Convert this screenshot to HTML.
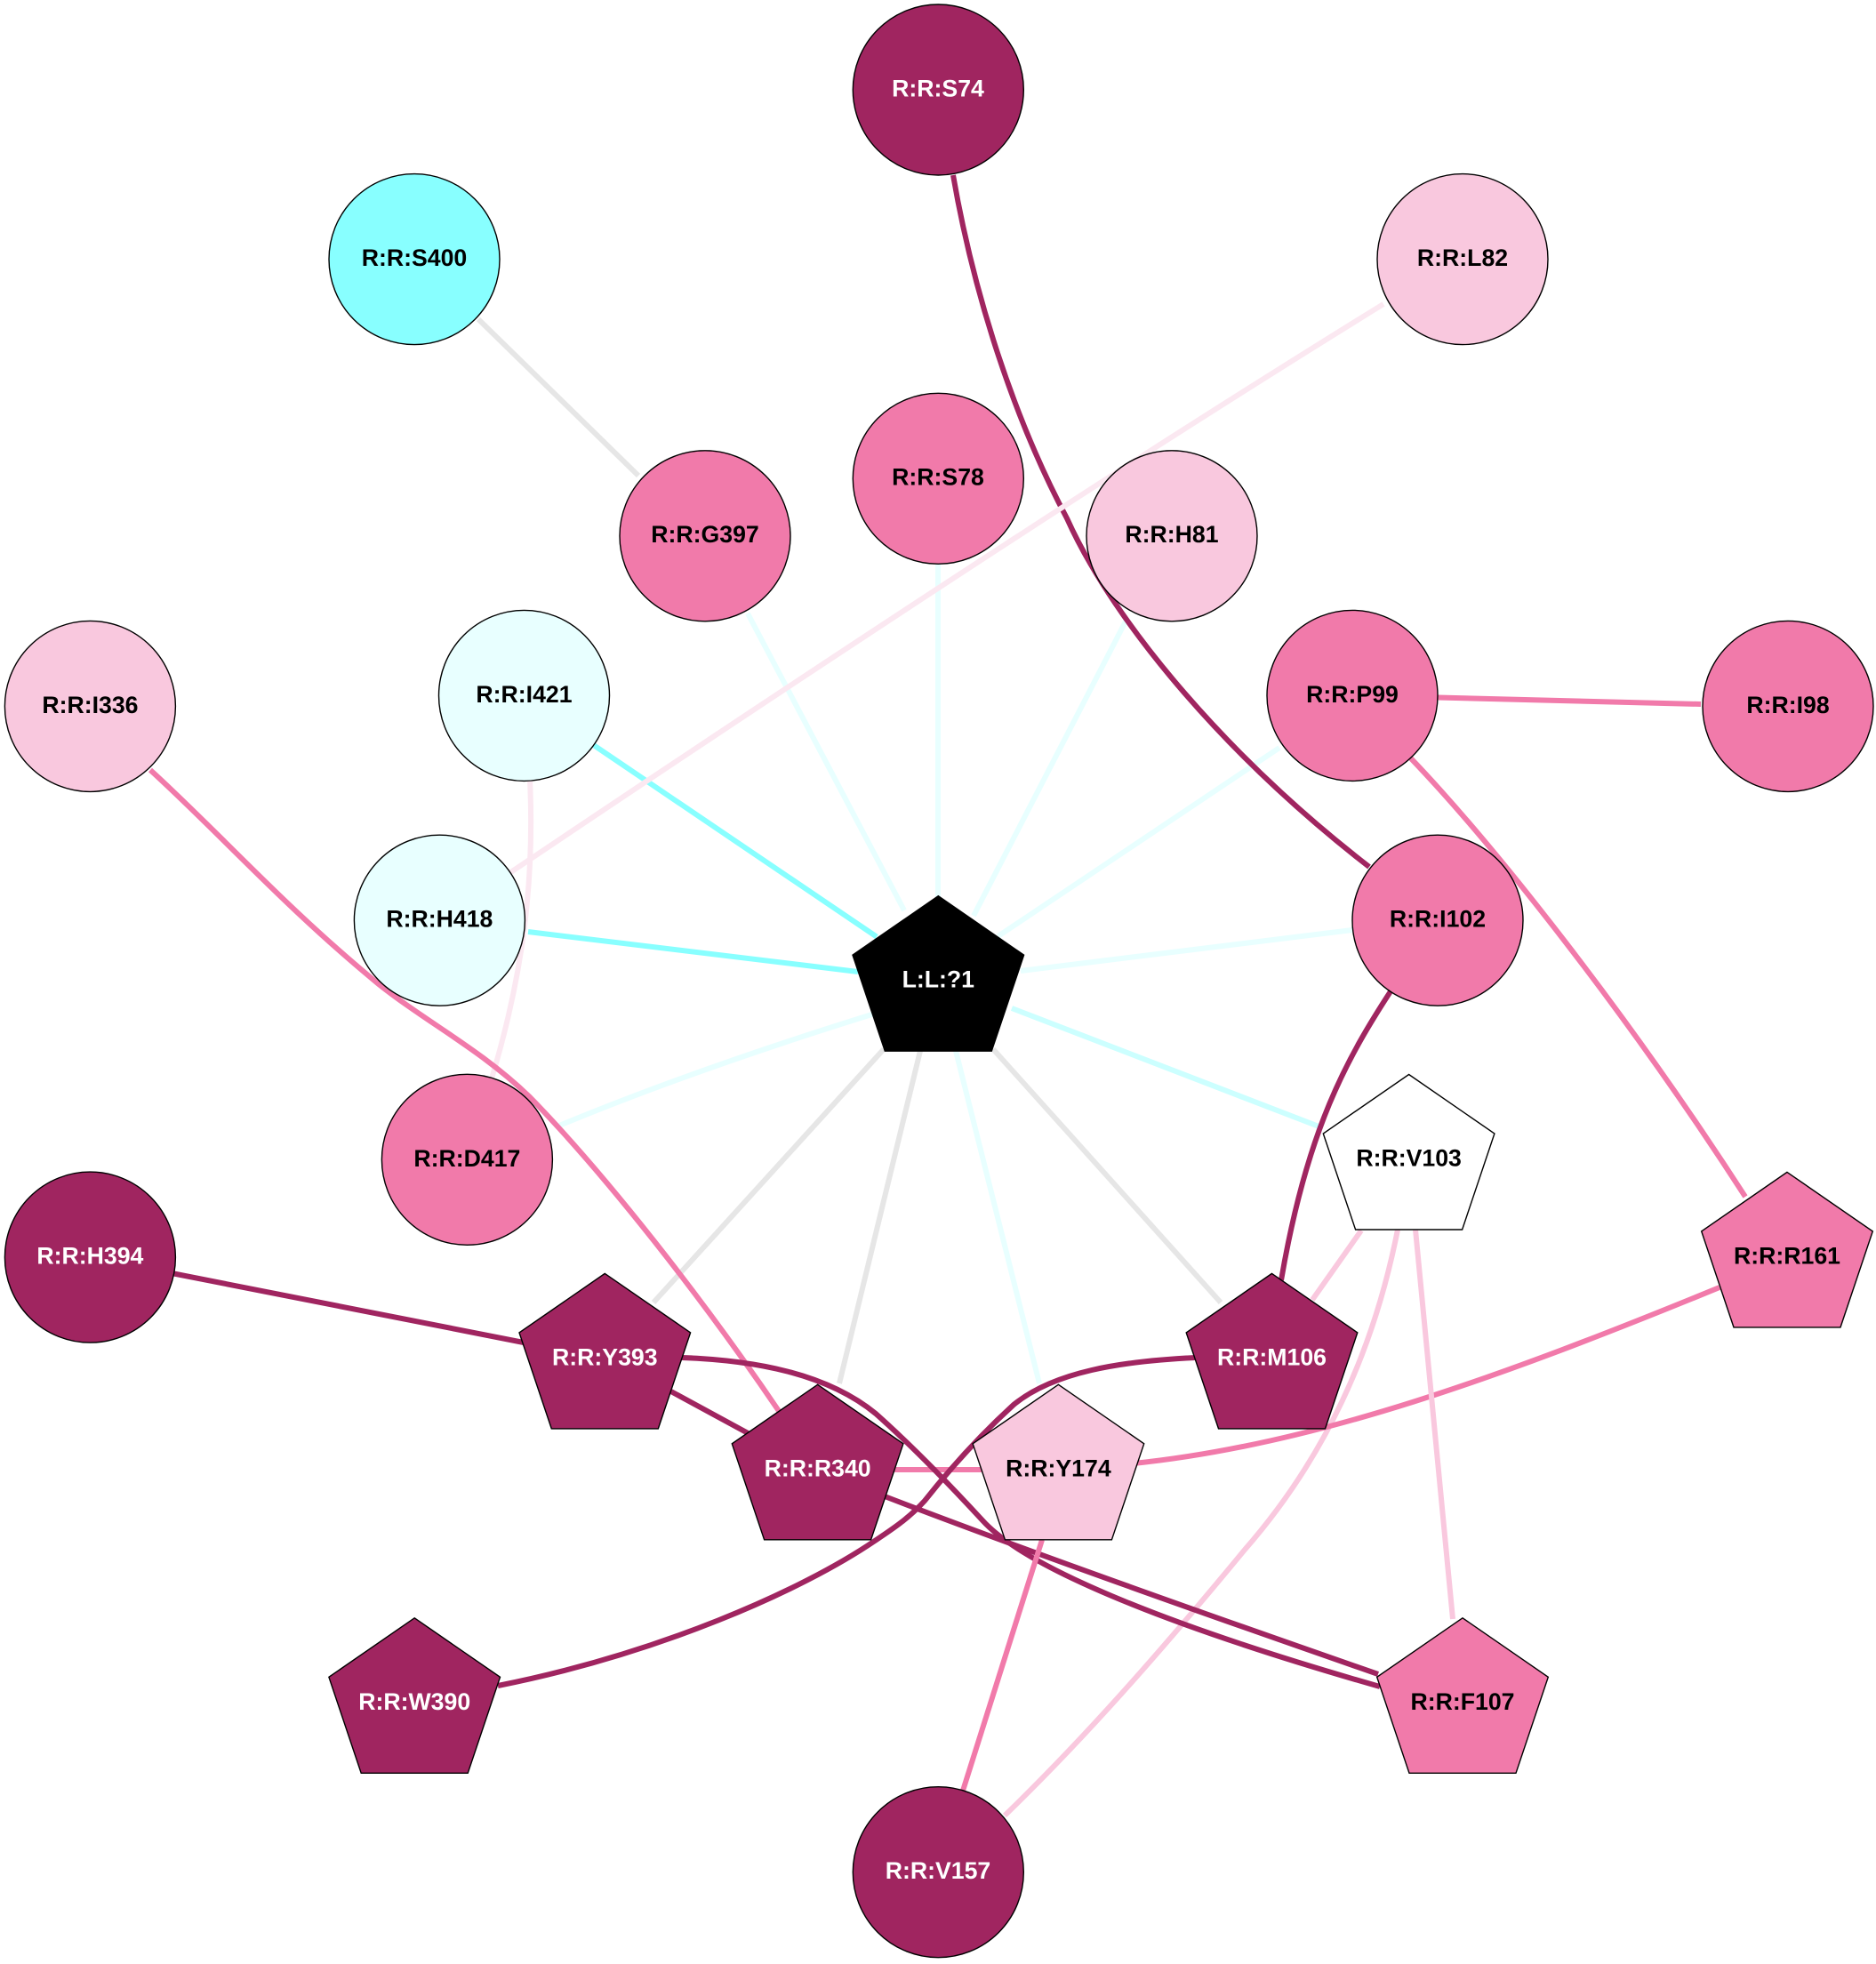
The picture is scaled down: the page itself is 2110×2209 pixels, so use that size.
<!DOCTYPE html>
<html><head><meta charset="utf-8"><style>
html,body{margin:0;padding:0;background:#fff}
svg{display:block}
text{font-family:"Liberation Sans",Arial,sans-serif;font-weight:bold;font-size:26.67px;text-anchor:middle}
.w{fill:#fff}.k{fill:#000}
circle,polygon{stroke:#000;stroke-width:1.4}
.e path{fill:none;stroke-width:6}
</style></head><body>
<svg width="2110" height="2209" viewBox="0 0 2110 2209" xmlns="http://www.w3.org/2000/svg">
<rect width="2110" height="2209" fill="#fff"/>
<g class="e">
<path stroke="#e6e6e6" d="M538 359L718 535"/>
<path stroke="#e8ffff" d="M1055 632L1055 1010"/>
<path stroke="#e8ffff" d="M841 690L1017 1024"/>
<path stroke="#e8ffff" d="M1268 695L1095 1030"/>
<path stroke="#88ffff" d="M667.6 838L986 1053.6"/>
<path stroke="#e8ffff" d="M1439 841L1122.6 1053"/>
<path stroke="#88ffff" d="M594 1048L965 1093"/>
<path stroke="#e8ffff" d="M1521 1046L1148 1092"/>
<path stroke="#e8ffff" d="M629 1266C740 1220 870 1175 1000 1135"/>
<path stroke="#ccffff" d="M1486 1268L1138 1134"/>
<path stroke="#e6e6e6" d="M735 1465L994 1180"/>
<path stroke="#e6e6e6" d="M944 1556L1035 1182"/>
<path stroke="#e8ffff" d="M1169 1556L1075 1182"/>
<path stroke="#e6e6e6" d="M1373 1465L1117 1180"/>
<path stroke="#a02560" d="M1072 197C1095 330 1140 470 1200 583C1255 705 1385 855 1540 975"/>
<path stroke="#fbe8f1" d="M1556 342C1300 500 1000 695 573 982"/>
<path stroke="#fbe8f1" d="M596 877C601 985 590 1090 553 1213"/>
<path stroke="#f17aaa" d="M169 866C250 940 320 1020 426 1107C480 1150 540 1180 595 1233C680 1320 790 1460 878 1590"/>
<path stroke="#f17aaa" d="M1617 784.5L1913 792"/>
<path stroke="#f17aaa" d="M1585 851C1680 950 1830 1140 1963 1346"/>
<path stroke="#f17aaa" d="M1000 1653L1110 1653"/>
<path stroke="#f9c8de" d="M1572 1383C1545 1520 1490 1640 1400 1743C1320 1840 1230 1945 1130 2042"/>
<path stroke="#f17aaa" d="M1275 1646C1480 1625 1690 1548 1934 1448"/>
<path stroke="#a02560" d="M1566 1112C1515 1190 1470 1270 1441 1440"/>
<path stroke="#a02560" d="M193 1432L589 1510"/>
<path stroke="#a02560" d="M754.7 1565L845 1614"/>
<path stroke="#a02560" d="M767 1527C850 1530 930 1545 985 1590C1030 1630 1070 1672 1105 1710C1150 1760 1300 1825 1552 1897"/>
<path stroke="#a02560" d="M995 1683C1130 1735 1340 1810 1550 1883"/>
<path stroke="#a02560" d="M1344.5 1527C1260 1531 1185 1543 1140 1580C1105 1612 1070 1650 1040 1688C1022 1708 1002 1721 984 1733C900 1790 740 1860 560 1896"/>
<path stroke="#f17aaa" d="M1172 1732L1083 2014"/>
<path stroke="#f9c8de" d="M1531 1384L1476 1462"/>
<path stroke="#f9c8de" d="M1592 1383L1634 1821"/>
</g>
<circle cx="1055.3" cy="101" r="96" fill="#a02560"/><text class="w" x="1055" y="108.5">R:R:S74</text>
<circle cx="466" cy="291.6" r="96" fill="#88ffff"/><text class="k" x="466" y="299">R:R:S400</text>
<circle cx="1645" cy="291.6" r="96" fill="#f9c8de"/><text class="k" x="1645" y="299">R:R:L82</text>
<circle cx="1055.3" cy="538.3" r="96" fill="#f17aaa"/><text class="k" x="1055" y="545.5">R:R:S78</text>
<circle cx="793" cy="602.8" r="96" fill="#f17aaa"/><text class="k" x="793" y="610">R:R:G397</text>
<circle cx="1318" cy="602.8" r="96" fill="#f9c8de"/><text class="k" x="1318" y="610">R:R:H81</text>
<circle cx="101.4" cy="794.4" r="96" fill="#f9c8de"/><text class="k" x="101.4" y="802">R:R:I336</text>
<circle cx="589.5" cy="782.4" r="96" fill="#e8ffff"/><text class="k" x="589.5" y="790">R:R:I421</text>
<circle cx="1521" cy="782.4" r="96" fill="#f17aaa"/><text class="k" x="1521" y="790">R:R:P99</text>
<circle cx="2011" cy="794.4" r="96" fill="#f17aaa"/><text class="k" x="2011" y="802">R:R:I98</text>
<circle cx="494.4" cy="1035.2" r="96" fill="#e8ffff"/><text class="k" x="494.4" y="1042.5">R:R:H418</text>
<circle cx="1617" cy="1035.2" r="96" fill="#f17aaa"/><text class="k" x="1617" y="1042.5">R:R:I102</text>
<circle cx="525.4" cy="1304.3" r="96" fill="#f17aaa"/><text class="k" x="525.4" y="1312">R:R:D417</text>
<circle cx="101.4" cy="1414.1" r="96" fill="#a02560"/><text class="w" x="101.4" y="1421.5">R:R:H394</text>
<circle cx="1055.3" cy="2105.7" r="96" fill="#a02560"/><text class="w" x="1055" y="2113">R:R:V157</text>
<g transform="translate(1055.3 1007.7)"><polygon points="0,0 96.3,66.5 60,174.5 -60,174.5 -96.3,66.5" fill="#000"/><text class="w" y="103">L:L:?1</text></g>
<g transform="translate(1584.6 1208.5)"><polygon points="0,0 96.3,66.5 60,174.5 -60,174.5 -96.3,66.5" fill="#fff"/><text class="k" y="103">R:R:V103</text></g>
<g transform="translate(2010 1318.4)"><polygon points="0,0 96.3,66.5 60,174.5 -60,174.5 -96.3,66.5" fill="#f17aaa"/><text class="k" y="103">R:R:R161</text></g>
<g transform="translate(680.3 1432.4)"><polygon points="0,0 96.3,66.5 60,174.5 -60,174.5 -96.3,66.5" fill="#a02560"/><text class="w" y="103">R:R:Y393</text></g>
<g transform="translate(1430.5 1432.4)"><polygon points="0,0 96.3,66.5 60,174.5 -60,174.5 -96.3,66.5" fill="#a02560"/><text class="w" y="103">R:R:M106</text></g>
<g transform="translate(919.6 1557.3)"><polygon points="0,0 96.3,66.5 60,174.5 -60,174.5 -96.3,66.5" fill="#a02560"/><text class="w" y="103">R:R:R340</text></g>
<g transform="translate(1190.4 1557.3)"><polygon points="0,0 96.3,66.5 60,174.5 -60,174.5 -96.3,66.5" fill="#f9c8de"/><text class="k" y="103">R:R:Y174</text></g>
<g transform="translate(466.2 1819.8)"><polygon points="0,0 96.3,66.5 60,174.5 -60,174.5 -96.3,66.5" fill="#a02560"/><text class="w" y="103">R:R:W390</text></g>
<g transform="translate(1645 1819.8)"><polygon points="0,0 96.3,66.5 60,174.5 -60,174.5 -96.3,66.5" fill="#f17aaa"/><text class="k" y="103">R:R:F107</text></g>
</svg>
</body></html>
